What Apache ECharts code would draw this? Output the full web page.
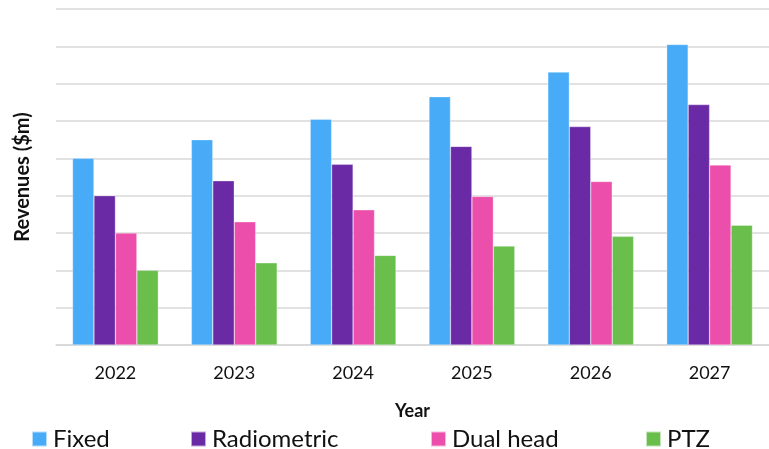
<!DOCTYPE html>
<html>
<head>
<meta charset="utf-8">
<script src="https://cdn.jsdelivr.net/npm/echarts@6/dist/echarts.min.js"></script>
<style>
  html, body { margin: 0; padding: 0; background: #fff; }
  #chart { width: 769px; height: 449px; }
</style>
</head>
<body>
<div id="chart"></div>
<script>
// Revenus par type de caméra, 2022-2027 (unité = une ligne de grille)
const annees = ["2022", "2023", "2024", "2025", "2026", "2027"];
const fixed = [5.0, 5.5, 6.05, 6.65, 7.31, 8.05];
const radiometric = [4.0, 4.4, 4.84, 5.32, 5.85, 6.44];
const dualHead = [3.0, 3.3, 3.62, 3.98, 4.38, 4.82];
const ptz = [2.0, 2.2, 2.4, 2.65, 2.91, 3.21];

const couleurs = {
  fixed: "#48abf8",
  radiometric: "#6a2aa6",
  dualHead: "#ec4fab",
  ptz: "#69be4c",
};

const police = "Lato, 'Open Sans', sans-serif";

function serie(nom, valeurs, couleur) {
  return {
    name: nom,
    type: "bar",
    data: valeurs,
    barGap: "0%",
    barCategoryGap: "27.8%",
    itemStyle: { color: couleur, borderColor: "rgba(255,255,255,0.6)", borderWidth: 0.5 },
  };
}

function legende(nom, gauche) {
  return {
    data: [nom],
    left: gauche,
    top: 422,
    itemWidth: 15,
    itemHeight: 15,
    icon: "rect",
    itemGap: 0,
    textStyle: { fontSize: 24, fontFamily: police, color: "#111", padding: [0, 0, 0, 1] },
  };
}

const chart = echarts.init(document.getElementById("chart"));
chart.setOption({
  animation: false,
  textStyle: { fontFamily: police },
  grid: { left: 56, right: -7, top: 9, bottom: 104 },
  legend: [
    legende("Fixed", 26),
    legende("Radiometric", 185),
    legende("Dual head", 425),
    legende("PTZ", 640),
  ],
  xAxis: {
    type: "category",
    data: annees,
    name: "Year",
    nameLocation: "middle",
    nameGap: 57,
    nameTextStyle: { fontSize: 18, fontWeight: "bold", color: "#111", fontFamily: police },
    axisLine: { lineStyle: { color: "#d6d6d6", width: 1.5 } },
    axisTick: { show: false },
    axisLabel: { fontSize: 18, color: "#111", margin: 19, fontFamily: police },
  },
  yAxis: {
    type: "value",
    min: 0,
    max: 9,
    interval: 1,
    name: "Revenues ($m)",
    nameLocation: "middle",
    nameGap: 23,
    nameRotate: 90,
    nameTextStyle: { fontSize: 20, fontWeight: "bold", color: "#111", fontFamily: police },
    axisLabel: { show: false },
    axisLine: { show: false },
    axisTick: { show: false },
    splitLine: { lineStyle: { color: "#d9d9d9", width: 1.5 } },
  },
  series: [
    serie("Fixed", fixed, couleurs.fixed),
    serie("Radiometric", radiometric, couleurs.radiometric),
    serie("Dual head", dualHead, couleurs.dualHead),
    serie("PTZ", ptz, couleurs.ptz),
  ],
});
</script>
</body>
</html>
